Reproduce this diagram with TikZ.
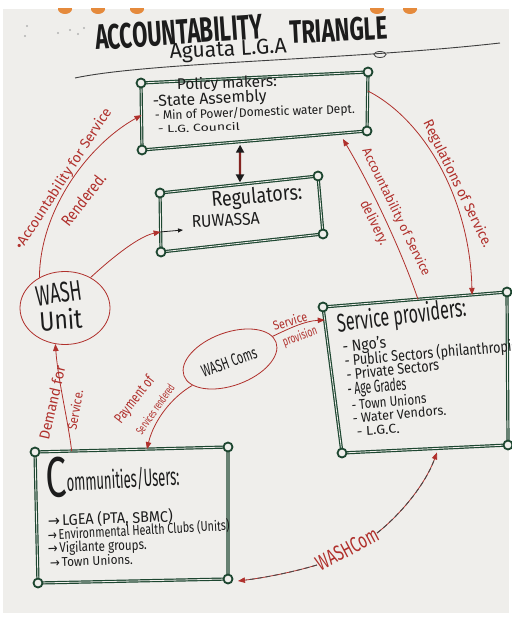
\documentclass[tikz,border=0pt]{standalone}
\usepackage{fontspec}
\usepackage{graphicx}
\setmainfont{Fira Sans}
\newfontfamily\symf{DejaVu Sans}
\usetikzlibrary{arrows.meta,calc,shapes.geometric}
\definecolor{paper}{HTML}{EFEEEB}
\definecolor{boxgreen}{HTML}{1D4630}
\definecolor{redink}{HTML}{B0302C}
\definecolor{ink}{HTML}{1C1C1C}
\definecolor{holes}{HTML}{E58A3C}
% hand lettering squeezed into a given width and height
\newcommand\hw[3]{\resizebox{#1pt}{#2pt}{#3}}
\newcommand\arr{{\symf →}\,}

\begin{document}
\begin{tikzpicture}[x=1pt,y=-1pt,
  txt/.style={inner sep=0pt, outer sep=0pt, anchor=base west, text=ink},
  rtxt/.style={inner sep=0pt, outer sep=0pt, text=redink},
  boxline/.style={draw=boxgreen, line width=1.2pt, double=paper, double distance=0.8pt, line join=round},
  knob/.style={draw=boxgreen, line width=1.8pt, fill=paper},
  redarrow/.style={draw=redink, line width=0.8pt, -{Triangle[length=7pt,width=5.5pt]}},
  redring/.style={ellipse, draw=redink, line width=0.8pt, inner sep=0pt},
]
\useasboundingbox (0,0) rectangle (511,617);
\fill[white] (0,0) rectangle (511,617);
\fill[paper] (3,9) rectangle (509,613);
% binding holes along the top edge
\begin{scope}
  \clip (0,9) rectangle (511,20);
  \foreach \x in {65,98,137,377,410}
    \fill[holes] (\x,9) ellipse[x radius=7pt, y radius=5pt];
\end{scope}
% faint marks in the top left corner
\foreach \p in {(27,26),(25,36),(58,33),(70,30),(78,34),(84,28)}
  \fill[gray!60] \p circle[radius=1.1pt];

% ---------- title ----------
\node[txt, rotate=4] (t-acc) at (96,50) {\hw{168}{25}{\bfseries ACCOUNTABILITY}};
\node[txt, rotate=3] (t-tri) at (290,44) {\hw{98}{23}{\bfseries TRIANGLE}};
\node[txt, rotate=3] (t-lga) at (170,59) {\hw{117}{15}{Aguata L.G.A}};
\draw[ink!85, line width=0.9pt] (75,78) .. controls (150,62) and (350,60) .. (500,43);
\draw[ink!85, line width=0.8pt] (380,54.5) ellipse[x radius=6pt, y radius=3pt];

% ---------- box corners ----------
\coordinate (pm-tl) at (141,83);  \coordinate (pm-tr) at (368,72);
\coordinate (pm-br) at (367,131); \coordinate (pm-bl) at (142,150);
\coordinate (rg-tl) at (160,193); \coordinate (rg-tr) at (318,176);
\coordinate (rg-br) at (323,234); \coordinate (rg-bl) at (161,252);
\coordinate (sp-tl) at (323,307); \coordinate (sp-tr) at (507,292);
\coordinate (sp-br) at (508,445); \coordinate (sp-bl) at (342,453);
\coordinate (cu-tl) at (35,452);  \coordinate (cu-tr) at (228,447);
\coordinate (cu-br) at (228,579); \coordinate (cu-bl) at (38,583);

\foreach \b in {pm,rg,sp,cu}
  \draw[boxline] (\b-tl) -- (\b-tr) -- (\b-br) -- (\b-bl) -- cycle;
\foreach \b in {pm,rg,sp,cu}
  \foreach \c in {tl,tr,br,bl}
    \draw[knob] (\b-\c) circle[radius=4.5pt];

% ---------- attachment points on the boxes ----------
\coordinate (pm-w)  at ($(pm-tl)!0.48!(pm-bl)$);
\coordinate (pm-e)  at ($(pm-tr)!0.32!(pm-br)$);
\coordinate (pm-s1) at ($(pm-bl)!0.436!(pm-br)+(0,3)$);
\coordinate (pm-s2) at ($(pm-bl)!0.893!(pm-br)+(0,6)$);
\coordinate (rg-n)  at ($(rg-tl)!0.506!(rg-tr)+(0,-2)$);
\coordinate (rg-w)  at ($(rg-tl)!0.66!(rg-bl)$);
\coordinate (rg-in) at (183,230);
\coordinate (sp-n1) at ($(sp-tl)!0.81!(sp-tr)$);
\coordinate (sp-n2) at ($(sp-tl)!0.516!(sp-tr)$);
\coordinate (sp-w)  at ($(sp-tl)!0.089!(sp-bl)$);
\coordinate (sp-s)  at ($(sp-bl)!0.572!(sp-br)+(0,4)$);
\coordinate (cu-n1) at ($(cu-tl)!0.19!(cu-tr)$);
\coordinate (cu-n2) at ($(cu-tl)!0.58!(cu-tr)$);
\coordinate (cu-e)  at ($(cu-br)+(10,2)$);

% ---------- box texts ----------
\node[txt, rotate=2] (p1) at (177,90)  {\hw{100}{12}{Policy makers:}};
\node[txt, rotate=3] (p2) at (153,107) {\hw{114}{12}{-State Assembly}};
\node[txt, rotate=2] (p3) at (155,120) {\hw{200}{10}{- Min of Power/Domestic water Dept.}};
\node[txt, rotate=2] (p4) at (158,133) {\hw{82}{8}{- L.G. Council}};

\node[txt, rotate=5] (r1) at (212,207) {\hw{91}{16}{Regulators:}};
\node[txt, rotate=3] (r2) at (192,228) {\hw{68}{12}{RUWASSA}};

\node[txt, rotate=7] (s1) at (338,332) {\hw{130}{20}{Service providers:}};
\node[txt, rotate=6] (s2) at (343,352) {\hw{44}{12}{- Ngo's}};
\node[txt, rotate=5] (s3) at (345,366) {\hw{178}{13}{- Public Sectors (philanthropist}};
\node[txt, rotate=6] (s4) at (347,380) {\hw{93}{12}{- Private Sectors}};
\node[txt, rotate=5] (s5) at (348,395) {\hw{59}{13}{- Age Grades}};
\node[txt, rotate=5] (s6) at (352,410) {\hw{75}{11}{- Town Unions}};
\node[txt, rotate=5] (s7) at (353,423) {\hw{94}{10}{- Water Vendors.}};
\node[txt, rotate=4] (s8) at (357,436) {\hw{43}{9}{- L.G.C.}};

\node[txt, rotate=2] (c0) at (46,497) {\hw{21}{40}{C}};
\node[txt, rotate=3] (c1) at (67,491) {\hw{113}{20}{ommunities/Users:}};
\node[txt, rotate=2] (c2) at (48,526) {\hw{125}{13}{\arr LGEA (PTA, SBMC)}};
\node[txt, rotate=3] (c3) at (48,540) {\hw{182}{12}{\arr Environmental Health Clubs (Units)}};
\node[txt, rotate=2] (c4) at (48,553) {\hw{99}{11}{\arr Vigilante groups.}};
\node[txt, rotate=2] (c5) at (50,567) {\hw{83}{10}{\arr Town Unions.}};

% ---------- ellipses ----------
\node[redring, minimum width=90pt, minimum height=73pt] (wu) at (65,308) {};
\node[txt, rotate=8] (u1) at (37,306) {\hw{46}{20}{WASH}};
\node[txt, rotate=4] (u2) at (40,331) {\hw{43}{21}{Unit}};

\node[redring, minimum width=98pt, minimum height=53pt, rotate=20] (wc) at (230,359) {};
\node[txt, anchor=center, rotate=20] (wct) at (229,362) {\hw{58}{12}{WASH Coms}};

% ---------- connectors ----------
\draw[redarrow] (wu.130) .. controls (40,210) and (88,145) .. (pm-w);
\draw[redarrow] (wu.50) .. controls (115,255) and (140,236) .. (rg-w);
\draw[ink, line width=0.8pt, -{Triangle[length=5pt,width=4pt]}] (rg-w) -- (rg-in);
\draw[redarrow] (pm-e) .. controls (425,120) and (470,200) .. (sp-n1);
\draw[redarrow] (sp-n2) .. controls (402,252) and (372,188) .. (pm-s2);
\draw[redarrow] (cu-n1) .. controls (68,420) and (58,380) .. (wu.255);
\draw[redarrow] (wc.195) .. controls (172,397) and (154,420) .. (cu-n2);
\draw[redarrow] (wc.8) .. controls (290,328) and (305,321) .. (sp-w);
\draw[line width=2.2pt, draw=redink!75!black,
  {Triangle[color=ink,length=8pt,width=8pt]}-{Triangle[color=ink,length=8pt,width=8pt]}]
  (pm-s1) -- (rg-n);

% WASHCom link between communities and providers
\node[rtxt, anchor=center, rotate=28] (wcom) at (347,549) {\hw{68}{15}{WASHCom}};
\draw[redarrow] (wcom.west) .. controls (290,573) and (262,578) .. (cu-e);
\draw[redarrow] (wcom.east) .. controls (400,515) and (425,485) .. (sp-s);
\draw[ink!80, line width=0.9pt, dash pattern=on 5pt off 3pt, shorten >=8pt]
  (wcom.west) .. controls (290,573) and (262,578) .. (cu-e);
\draw[ink!80, line width=0.9pt, dash pattern=on 5pt off 3pt, shorten >=8pt]
  (wcom.east) .. controls (400,515) and (425,485) .. (sp-s);

% ---------- red labels ----------
\node[rtxt, anchor=base, rotate=57] (l1) at (67,181) {\hw{165}{11}{•Accountability for Service}};
\node[rtxt, anchor=base, rotate=52] (l2) at (88,203) {\hw{62}{12}{Rendered.}};
\node[rtxt, anchor=base west, rotate=-64] (l3) at (423,123) {\hw{140}{11}{Regulations of Service.}};
\node[rtxt, anchor=base west, rotate=-64] (l4) at (362,151) {\hw{140}{10}{Accountability of Service}};
\node[rtxt, anchor=center, rotate=-64] (l5) at (374,223) {\hw{48}{11}{delivery.}};
\node[rtxt, anchor=center, rotate=77] (l6) at (52,403) {\hw{75}{11}{Demand for}};
\node[rtxt, anchor=center, rotate=80] (l7) at (75,410) {\hw{40}{10}{Service.}};
\node[rtxt, anchor=center, rotate=52] (l8) at (135,400) {\hw{55}{11}{Payment of}};
\node[rtxt, anchor=center, rotate=55] (l9) at (155,409) {\hw{58}{9}{Services rendered}};
\node[rtxt, anchor=center, rotate=17] (l10) at (290,321) {\hw{35}{10}{Service}};
\node[rtxt, anchor=center, rotate=20] (l11) at (300,337) {\hw{36}{10}{provision}};
\end{tikzpicture}
\end{document}
